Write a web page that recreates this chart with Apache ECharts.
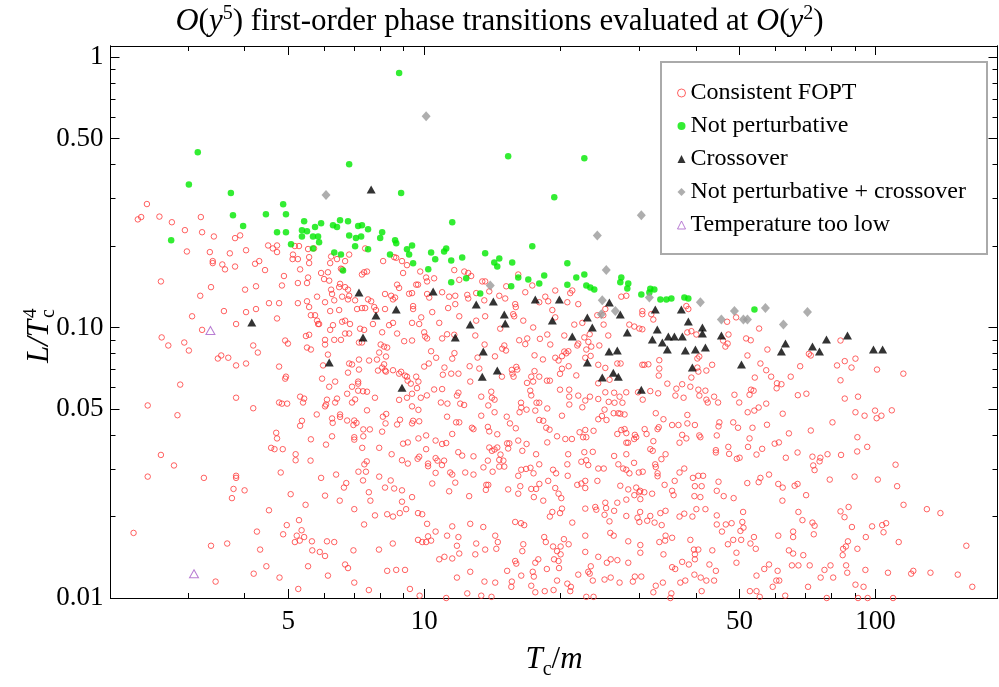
<!DOCTYPE html>
<html><head><meta charset="utf-8">
<script src="https://cdn.jsdelivr.net/npm/echarts@6/dist/echarts.min.js"></script>
<style>html,body{margin:0;padding:0;background:#fff}#c{width:999px;height:687px}</style>
</head><body><div id="c"></div>
<script>
// ---------- axes ----------
const xRange = [2.018, 186.4];
const yRange = [0.01, 1.098];
const xTicksMajor = [5, 10, 50, 100];
const xTickLabels = ['5', '10', '50', '100'];
const xTicksMinor = [3, 4, 6, 7, 8, 9, 20, 30, 40, 60, 70, 80, 90];
const yTicksMajor = [0.01, 0.05, 0.1, 0.5, 1];
const yTickLabels = ['0.01', '0.05', '0.10', '0.50', '1'];
const yTicksMinor = [0.02, 0.03, 0.04, 0.06, 0.07, 0.08, 0.09, 0.2, 0.3, 0.4, 0.6, 0.7, 0.8, 0.9];
const seriesNames = ['Consistent FOPT', 'Not perturbative', 'Crossover', 'Not perturbative + crossover', 'Temperature too low'];

// ---------- data: [Tc/m, L/Tc^4] ----------
const consistentFOPT = [
[2.43,.286],
[2.32,.251],[2.36,.256],[2.59,.257],[2.76,.245],[3.20,.256],[2.95,.229],[3.22,.225],[3.42,.217],[3.81,.214],[3.91,.219],
[2.98,.191],[3.35,.190],[3.71,.188],[4.03,.193],[4.51,.201],[4.72,.201],[4.62,.196],[4.72,.190],[5.17,.200],[5.28,.200],
[5.53,.195],[5.70,.196],[5.12,.186],[5.11,.179],[5.25,.179],[5.56,.182],[5.56,.173],[3.40,.176],[3.40,.173],[3.57,.171],
[3.62,.164],[3.81,.168],[4.22,.172],[4.31,.176],[4.44,.163],[2.61,.148],[3.37,.141],[3.19,.131],[4.01,.138],[4.24,.142],
[4.84,.143],[4.89,.155],[5.31,.164],[5.25,.146],[5.50,.146],[5.53,.153],[5.91,.159],[6.12,.160],[6.00,.151],[6.16,.149],
[6.19,.173],[6.41,.179],[6.68,.176],[6.82,.186],[6.22,.183],[6.54,.165],[6.58,.164],[7.28,.157],[7.36,.160],[7.47,.161],
[7.40,.196],[8.11,.176],[8.58,.182],[8.67,.181],[8.93,.176],[8.98,.159],[9.16,.170],[6.51,.145],[6.48,.141],[6.22,.138],
[6.25,.133],[6.78,.138],[6.82,.131],[6.78,.127],[6.68,.141],[7.51,.127],[7.63,.125],[7.75,.119],[7.82,.116],[8.19,.133],
[8.19,.117],[8.45,.131],[8.62,.129],[8.53,.127],[8.71,.144],[8.80,.140],[3.60,.115],[4.03,.114],[4.24,.117],[3.06,.110],
[3.22,.098],[3.83,.103],[4.53,.123],[4.77,.123],[5.25,.123],[5.50,.125],[5.56,.119],[5.79,.130],[6.03,.124],[6.32,.126],
[6.58,.130],[7.03,.126],[4.72,.108],[5.61,.111],[5.73,.111],[5.79,.106],[5.82,.103],[5.85,.103],[6.19,.115],[6.48,.116],
[6.58,.105],[6.68,.106],[6.85,.103],[7.40,.118],[7.10,.117],[7.28,.118],[7.36,.098],[7.21,.099],[6.19,.098],[6.28,.102],
[5.47,.093],[5.56,.094],[6.03,.090],[6.32,.090],[6.54,.090],[6.68,.095],[6.82,.095],[7.17,.088],[7.28,.088],[7.70,.103],
[8.36,.102],[8.53,.104],[8.71,.095],[9.03,.089],[8.07,.096],[8.01,.0865],[8.15,.085],[8.28,.0843],[7.95,.0808],[8.23,.0781],
[7.86,.0761],[7.55,.0755],[7.17,.0761],[6.82,.0736],[6.92,.073],[6.78,.0681],[7.17,.0699],[5.97,.0724],[6.12,.0794],[5.50,.0843],
[5.61,.0829],[6.03,.0865],[4.92,.0895],[4.99,.0872],[4.18,.0858],[4.28,.0808],[2.62,.0919],[2.71,.0858],[2.94,.088],[3.01,.0822],
[3.49,.0768],[3.55,.0788],[3.68,.0773],[3.83,.0724],[4.03,.0736],[4.77,.0717],[4.92,.0647],[4.94,.0658],[5.94,.0647],[6.35,.0631],
[6.16,.0604],[6.92,.0604],[7.14,.0631],[7.14,.062],[7.14,.0584],[7.32,.0581],[7.47,.0579],[6.75,.0569],[6.41,.0546],[6.09,.0541],
[6.06,.0519],[6.35,.0528],[6.92,.0528],[7.03,.0542],[7.78,.055],[7.90,.0693],[8.07,.0711],[8.15,.0731],[8.19,.0693],[8.23,.0687],
[8.53,.0695],[8.80,.0675],[8.89,.0686],[9.07,.0664],[9.16,.0658],[8.80,.054],[9.16,.055],[2.88,.0615],[2.44,.0515],[3.83,.055],
[5.31,.0555],[5.42,.0546],[5.39,.0528],[4.77,.0528],[4.84,.0523],[4.97,.0523],[13.87,.0515],[20.97,.0519],
[9.80,.161],[10.10,.153],[10.15,.148],[10.52,.152],[9.60,.144],[9.69,.144],[9.40,.134],[10.15,.133],[10.26,.129],[10.96,.135],
[11.36,.130],[11.72,.131],[11.66,.163],[11.96,.150],[12.27,.161],[12.52,.159],[12.71,.155],[13.45,.148],[13.65,.148],[12.46,.132],
[12.52,.128],[13.04,.134],[13.59,.126],[13.94,.136],[14.67,.131],[15.12,.128],[15.20,.142],[15.91,.122],[15.96,.119],[16.16,.157],
[17.36,.143],[16.75,.135],[17.99,.124],[18.55,.130],[18.83,.125],[19.52,.137],[20.76,.124],[21.29,.137],[21.07,.134],[21.95,.122],
[19.23,.116],[19.52,.109],[9.45,.120],[9.45,.117],[9.40,.104],[9.85,.109],[9.75,.103],[10.42,.114],[10.80,.104],[11.30,.118],
[11.72,.122],[11.96,.110],[11.66,.094],[10.00,.096],[10.05,.0926],[10.15,.0911],[9.40,.0895],[10.96,.0911],[11.24,.0944],[12.98,.0934],
[13.65,.110],[13.04,.106],[14.74,.099],[15.83,.110],[15.75,.112],[16.58,.106],[17.44,.100],[16.24,.0897],[16.92,.0911],[18.05,.0908],
[18.74,.0942],[19.03,.0865],[20.44,.0934],[21.51,.1025],[22.41,.104],[22.64,.0919],[23.11,.0885],[21.95,.0872],[21.84,.0858],[23.46,.085],
[24.44,.0858],[23.27,.0944],[25.58,.0934],[24.94,.111],[24.98,.1025],[24.19,.111],[25.20,.117],[27.34,.130],[28.05,.131],[28.48,.1025],
[29.22,.1008],[29.98,.0991],[30.44,.0985],[30.44,.115],[30.44,.112],[31.86,.112],[32.19,.107],[33.19,.0757],[33.19,.0705],[33.1,.0664],
[34.58,.062],[36.21,.0594],[38.29,.0959],[39.09,.0969],[40.10,.0942],[38.10,.120],[38.49,.117],[40.31,.0768],[40.31,.0711],[40.51,.0687],
[40.7,.0781],[39.09,.0653],[38.89,.0604],[40.51,.0589],[40.72,.056],[30.44,.0728],[30.75,.0728],[31.39,.0731],[26.79,.0736],[27.24,.0736],
[25.20,.0709],[24.31,.0728],[23.38,.0785],[22.75,.0773],[22.87,.0829],[20.87,.0817],[20.65,.0803],[20.44,.0815],[20.2,.0783],[19.52,.0773],
[19.85,.0755],[18.33,.0762],[17.56,.0789],[16.75,.0868],[15.05,.0858],[15.18,.0822],[14.89,.0835],[14.35,.0782],[13.61,.0865],[13.13,.0774],
[13.25,.0705],[12.61,.0719],[12.65,.0631],[11.91,.0675],[11.48,.0675],[11.00,.0669],[11.09,.0711],[11.67,.0804],[11.54,.0767],[10.63,.0773],
[10.36,.0817],[10.24,.0736],[10.0,.0717],[9.60,.0658],[9.71,.0631],[9.64,.0597],[9.40,.0569],[9.83,.055],[10.14,.0561],[10.52,.059],
[10.96,.0592],[10.89,.0528],[11.26,.0523],[11.82,.056],[11.91,.0574],[12.02,.0523],[12.26,.0517],[13.38,.0555],[14.08,.0579],[14.13,.055],
[14.32,.0541],[14.87,.0658],[15.64,.0697],[15.69,.0675],[16.0,.0715],[16.08,.0699],[15.78,.0658],[16.90,.0624],[17.27,.0658],[17.56,.069],
[17.99,.0658],[17.44,.0631],[17.18,.0584],[17.27,.0561],[16.39,.0527],[17.74,.0527],[17.99,.0527],[18.71,.0636],[18.99,.0636],[20.0,.0674],
[20.2,.0704],[20.9,.0719],[21.73,.0665],[20.0,.0589],[20.96,.0589],[20.96,.0555],[21.95,.056],[22.75,.0537],[23.3,.0555],[24.31,.0544],
[24.3,.0622],[25.75,.0641],[25.2,.0576],[26.36,.0574],[27.1,.0555],[28.04,.0576],[25.64,.0531],[26.41,.0527],[27.5,.0527],[29.78,.0576],
[30.5,.0541],[31.70,.0582],[33.0,.0571],[36.03,.056],[37.3,.0617],[37.57,.055],[9.34,.062],[9.19,.0636],[9.26,.1333],
[46.91,.105],[49.12,.109],[55.24,.0991],[47.24,.0942],[51.69,.0911],[52.92,.0897],[45.96,.0895],[47.04,.0872],[46.5,.085],[57.62,.0829],
[52.04,.0788],[55.60,.0736],[57.27,.0695],[54.03,.0653],[58.73,.0658],[64.9,.0658],[68.1,.0719],[71.2,.0799],[71.89,.0788],[83.66,.0895],
[85.5,.0751],[90.3,.0767],[82.2,.0724],[88.5,.0711],[100.8,.0699],[115.3,.0675],[83.66,.0638],[43.46,.0728],[42.2,.0693],[41.99,.0584],
[43.9,.0555],[44.8,.0528],[42.2,.0541],[42.5,.0528],[48.7,.0564],[49.9,.0528],[52.6,.0564],[53.0,.0589],[53.7,.0584],[60.5,.0622],
[61.9,.0617],[60.4,.0596],[67.3,.0562],[70.3,.0569],[85.5,.0546],[91.5,.0555],[57.27,.0523],
[2.84,.0474],[4.18,.0503],[6.03,.0511],[7.47,.0494],[5.78,.0477],[6.25,.0461],[6.27,.0444],[6.51,.0477],[6.51,.0467],[6.75,.0453],
[7.0,.0453],[6.97,.0436],[7.08,.0444],[7.33,.042],[7.58,.042],[8.10,.0468],[8.24,.0479],[8.21,.0442],[8.71,.0438],[8.84,.0456],
[8.07,.0412],[5.31,.0433],[5.36,.0452],[4.70,.0408],[4.72,.0389],[4.58,.0359],[4.66,.0355],[4.86,.0355],[5.19,.034],[5.19,.0323],
[5.61,.0386],[6.06,.0369],[6.25,.0396],[7.0,.0393],[7.0,.0385],[7.33,.0396],[7.29,.0359],[7.95,.0359],[8.47,.034],[8.98,.0372],
[8.93,.0323],[2.61,.0338],[2.79,.0309],[2.44,.0281],[3.25,.0278],[3.83,.0283],[3.83,.0278],[3.78,.0253],[3.75,.0234],[4.0,.025],
[5.60,.0322],[4.81,.0291],[5.06,.0242],[5.46,.0221],[5.91,.0278],[6.03,.0239],[6.38,.0286],[6.64,.0256],[6.72,.0266],[6.50,.0229],
[7.15,.0293],[7.43,.0293],[7.46,.032],[7.37,.0312],[7.32,.0272],[7.54,.0246],[7.60,.0229],[7.95,.0281],[8.19,.0256],[8.43,.0272],
[8.58,.0254],[8.93,.025],[8.93,.0227],[7.0,.0213],[7.78,.0202],[8.28,.0204],[8.53,.02],[8.83,.0206],[9.12,.0213],[7.36,.0187],
[7.94,.0151],[8.52,.0159],[6.97,.015],[6.68,.0133],[6.78,.0129],[7.0,.0114],[7.54,.0107],[8.28,.0126],[8.67,.0127],[9.07,.0127],
[4.53,.0211],[5.28,.0194],[4.96,.0186],[5.35,.0178],[4.87,.0172],[5.22,.017],[5.17,.0161],[5.30,.0163],[5.42,.0168],[5.64,.0162],
[5.65,.015],[5.87,.0148],[6.03,.0143],[6.09,.0162],[6.32,.0161],[5.53,.0131],[6.12,.0121],[5.26,.0108],[4.78,.0119],[4.47,.0131],
[4.19,.0123],[4.33,.0151],[4.26,.0176],[3.45,.0115],[3.66,.0159],[3.37,.0156],[2.27,.0174],
[9.40,.0511],[9.71,.0496],[14.32,.0486],[16.41,.0506],[16.86,.0497],[17.63,.0493],[18.74,.0502],[22.41,.0507],[25.1,.0497],[26.3,.0482],
[26.92,.0482],[27.2,.048],[27.8,.0477],[9.40,.0442],[9.45,.0452],[9.75,.045],[9.71,.0389],[10.10,.0399],[11.24,.0468],[11.77,.0446],
[11.96,.0446],[11.54,.0404],[12.76,.0426],[12.86,.0421],[13.38,.0472],[13.84,.0429],[13.94,.0413],[14.52,.0403],[15.24,.0468],[15.49,.0442],
[15.96,.0424],[16.27,.0486],[17.99,.0455],[18.36,.0452],[18.64,.0426],[18.96,.0419],[20.2,.0472],[19.7,.0396],[20.55,.0387],[21.25,.0387],
[22.1,.041],[22.5,.0393],[22.75,.0418],[22.87,.0393],[23.73,.0415],[24.31,.0458],[24.77,.0471],[25.35,.0455],[26.79,.0404],[27.34,.0418],
[27.8,.0421],[28.05,.0407],[29.3,.0401],[29.5,.0393],[29.2,.0387],[28.3,.0375],[31.1,.0404],[30.8,.0421],[32.6,.0482],[33.9,.0458],
[33.1,.0428],[32.9,.0421],[35.43,.0436],[36.6,.0436],[38.3,.0475],[38.3,.0442],[39.8,.0436],[37.3,.0401],[38.1,.0389],[36.8,.0375],
[40.7,.0399],[40.93,.0393],[9.20,.0376],[9.20,.0314],[10.6,.0382],[10.96,.0371],[11.19,.0374],[10.1,.0355],[9.67,.0327],[9.75,.0333],
[10.6,.0329],[10.2,.0314],[10.2,.0307],[10.7,.0322],[11.07,.0322],[10.95,.031],[10.6,.029],[10.42,.0265],[11.42,.0291],[11.54,.0286],
[11.72,.0267],[11.9,.0346],[12.14,.0336],[12.86,.0334],[12.33,.0291],[12.86,.0286],[13.53,.0304],[13.84,.0322],[14.13,.035],[14.32,.0354],
[13.94,.036],[14.52,.036],[14.76,.0339],[14.67,.0324],[14.98,.0322],[14.67,.0306],[15.05,.0306],[14.18,.0293],[15.27,.0373],[15.44,.0373],
[15.35,.0357],[16.16,.0382],[16.5,.035],[16.86,.0371],[17.7,.034],[17.99,.0312],[16.41,.0298],[16.82,.03],[17.2,.0303],[17.47,.0289],
[16.16,.0283],[18.74,.0376],[19.3,.0298],[19.6,.0289],[20.85,.034],[20.8,.0283],[20.76,.0312],[22.3,.0319],[22.64,.0346],[22.86,.0323],
[23.1,.031],[23.64,.0347],[24.31,.0301],[25.0,.0301],[22.75,.0271],[22.3,.0265],[24.2,.0271],[26.36,.0335],[26.93,.0312],[28.05,.034],
[28.05,.0375],[29.18,.0316],[27.6,.0301],[28.05,.0298],[28.5,.0289],[29.9,.0291],[30.5,.0293],[31.7,.0355],[32.1,.035],[32.2,.038],
[32.5,.0312],[32.6,.0305],[33.55,.0326],[34.27,.034],[32.9,.0289],[32.9,.0282],[36.8,.0291],[37.7,.0301],[39.4,.0278],[39.8,.0259],
[41.2,.0259],[40.93,.0236],[39.7,.0238],[40.5,.0283],[9.40,.0236],[9.69,.0206],[9.90,.0204],[11.36,.0248],[12.58,.0238],[13.7,.0251],
[13.87,.0262],[13.73,.0262],[15.35,.0252],[16.16,.0243],[16.33,.0259],[17.27,.0253],[17.7,.0253],[17.5,.0236],[18.0,.0264],[18.83,.0271],
[19.52,.0255],[19.85,.0243],[20.13,.0234],[18.36,.0229],[19.23,.0208],[18.99,.02],[20.0,.0206],[20.2,.0214],[21.29,.019],[21.84,.0262],
[22.75,.0255],[22.75,.0214],[23.94,.0217],[24.07,.0212],[25.1,.0203],[25.3,.0215],[25.2,.0225],[25.74,.0192],[25.85,.0174],[26.3,.017],
[26.79,.0225],[26.36,.021],[27.2,.026],[28.05,.0231],[28.33,.0252],[29.22,.024],[29.5,.0256],[29.98,.0246],[30.1,.0208],[30.13,.0232],
[30.1,.0249],[30.75,.0246],[32.0,.0243],[28.05,.0201],[29.7,.0198],[29.98,.0191],[31.2,.0193],[31.70,.0201],[32.4,.019],[33.6,.0186],
[34.27,.021],[33.37,.0206],[35.43,.0249],[35.7,.024],[34.1,.0262],[35.9,.0271],[36.8,.02],[37.7,.0205],[39.3,.02],[40.1,.0213],
[9.69,.0164],[9.90,.0161],[10.1,.0161],[10.36,.0163],[10.2,.0169],[10.6,.0176],[10.15,.0188],[11.24,.017],[11.54,.0184],[11.91,.0168],
[11.82,.0156],[11.96,.0146],[11.09,.0142],[11.54,.014],[10.8,.0139],[13.04,.0159],[12.98,.0145],[12.65,.0188],[13.52,.0183],[13.65,.0151],
[14.37,.017],[14.56,.0161],[14.45,.0152],[15.91,.0191],[16.39,.0189],[16.66,.0186],[16.58,.0158],[16.5,.0149],[18.45,.0168],[18.6,.0161],
[19.3,.0155],[20.06,.0155],[20.4,.0165],[20.9,.0158],[19.7,.0149],[20.06,.0145],[19.4,.0139],[19.85,.0137],[19.9,.0129],[18.7,.0128],
[17.63,.0135],[15.91,.0137],[16.0,.0134],[15.27,.0126],[16.41,.0121],[17.4,.0125],[17.5,.012],[17.9,.0139],[22.75,.017],[22.75,.0148],
[24.31,.0142],[23.4,.0131],[25.4,.0135],[25.9,.0139],[26.8,.0138],[28.33,.0135],[28.33,.0162],[30.13,.0157],[30.13,.0147],[33.2,.0161],
[34.2,.0163],[34.27,.017],[35.43,.0167],[33.9,.0145],[38.89,.0164],[39.6,.0151],[39.8,.0145],[40.5,.0151],[39.8,.0139],[38.6,.0133],
[37.3,.0136],[35.43,.013],[36.0,.0128],[11.82,.0119],[12.65,.0125],[13.6,.0115],[14.37,.0114],[12.46,.0104],[11.19,.0100],[9.77,.0102],
[9.30,.0108],[13.38,.0102],[14.1,.0101],[15.64,.0115],[15.6,.011],[17.27,.0111],[17.63,.0105],[18.5,.0106],[19.35,.0107],[20.76,.0113],
[21.14,.011],[21.07,.0106],[19.7,.0116],[21.95,.0122],[23.1,.0125],[23.27,.0123],[23.64,.0116],[22.87,.0101],[23.73,.0101],[25.1,.0117],
[25.9,.0119],[27.1,.0114],[29.0,.0115],[29.3,.012],[30.28,.012],[32.2,.0105],[32.6,.0111],[33.8,.0114],[35.3,.0104],[35.12,.0100],
[36.95,.0114],[37.9,.0116],[39.7,.0122],[41.0,.0119],[41.2,.0106],
[52.1,.0486],[53.9,.0493],[55.1,.0506],[62.3,.048],[90.3,.0486],[94.6,.0472],[99.8,.0493],[100.6,.0462],[103.1,.0472],[108.7,.0494],
[45.1,.0446],[44.9,.0431],[48.4,.0446],[49.6,.0426],[53.4,.0426],[57.5,.0437],[80.3,.0446],[71.9,.0416],[64.3,.0406],[44.5,.0399],
[52.6,.0389],[52.2,.0362],[56.1,.0356],[59.8,.0372],[61.1,.0376],[47.2,.0362],[47.4,.0341],[44.3,.0352],[44.3,.0345],[49.3,.0327],
[50.0,.033],[54.5,.0339],[63.3,.033],[67.2,.0345],[72.5,.0333],[75.5,.033],[78.3,.034],[83.9,.0338],[75.2,.032],[72.8,.0309],
[73.3,.0297],[91.2,.0393],[91.1,.0348],[95.9,.0362],[110.8,.0311],[41.5,.0283],[58.1,.0286],[55.6,.0278],[55.1,.0268],[52.0,.0266],
[44.9,.0269],[44.5,.0249],[46.1,.0238],[48.5,.0234],[60.9,.0264],[62.3,.0256],[66.2,.026],[67.2,.0264],[70.2,.024],[62.2,.0229],
[79.2,.0274],[89.9,.0281],[101.2,.0274],[111.7,.0259],[42.0,.0213],[44.5,.0202],[44.5,.0187],[46.6,.0187],[48.0,.0189],[50.9,.0208],
[50.7,.0191],[51.0,.0182],[50.21,.0177],[45.7,.0176],[47.1,.0158],[48.4,.0164],[50.4,.0164],[52.84,.0159],[53.8,.0168],[54.3,.0152],
[60.9,.017],[65.7,.0176],[65.7,.0168],[67.5,.0208],[68.9,.0194],[72.5,.019],[73.3,.0185],[73.0,.0172],[83.66,.0209],[85.4,.0199],
[87.2,.0217],[88.7,.0183],[98.3,.0184],[103.5,.0186],[105.6,.0189],[104.2,.0175],[95.2,.0168],[86.9,.0162],[86.0,.0155],[84.8,.0152],
[84.6,.0144],[91.2,.0152],[112.6,.0161],[115.4,.0221],[130.0,.0213],[139.3,.0206],[159.0,.0156],[43.5,.015],[49.2,.0147],[49.2,.0135],
[42.86,.0133],[44.3,.0126],[42.2,.0116],[43.9,.0116],[56.7,.0128],[58.1,.0133],[60.7,.0126],[60.3,.0116],[61.2,.0116],[59.2,.011],
[54.5,.0121],[52.7,.0106],[54.5,.0106],[55.4,.0101],[63.1,.0102],[64.3,.015],[65.7,.0146],[69.2,.0144],[65.3,.0132],[67.5,.0132],
[71.5,.0132],[70.9,.011],[75.6,.0119],[77.1,.0127],[79.5,.0132],[80.6,.0119],[86.1,.0132],[86.6,.0124],[90.3,.0112],[94.1,.011],
[95.0,.0127],[106.6,.0124],[120.0,.0123],[121.3,.0126],[132.4,.0124],[152.2,.0122],[163.9,.011],[78.0,.01],[91.5,.01],[96.1,.01],[109.4,.01]
];
const notPerturbative = [
[8.80,.872],[3.15,.444],[6.82,.401],[3.01,.338],[3.73,.314],[8.89,.314],[4.87,.2855],[3.77,.260],[4.46,.262],[4.94,.262],
[15.35,.430],[22.64,.422],[19.42,.303],[3.97,.237],[2.75,.210],[4.72,.225],[4.94,.225],[5.42,.247],[5.36,.229],[5.50,.227],
[5.73,.235],[5.91,.243],[5.36,.217],[5.67,.217],[5.82,.217],[5.85,.2065],[5.07,.203],[5.67,.196],[6.28,.239],[6.41,.235],
[6.51,.249],[6.78,.247],[7.14,.237],[7.28,.239],[7.51,.231],[6.82,.219],[7.06,.214],[7.25,.217],[7.03,.1995],[7.51,.1945],
[6.32,.1895],[6.54,.1863],[6.61,.1626],[8.07,.225],[7.99,.214],[8.62,.210],[8.67,.205],[8.40,.186],[9.16,.1945],[9.26,.186],
[11.54,.245],[9.40,.201],[9.45,.1726],[10.36,.1895],[10.58,.1786],[11.07,.191],[11.19,.196],[11.48,.177],[12.14,.1816],[10.21,.164],
[11.48,.147],[12.39,.152],[13.31,.1336],[13.65,.188],[14.30,.174],[14.67,.180],[14.52,.168],[15.67,.174],[17.36,.1995],[16.16,.153],
[15.59,.142],[17.01,.1506],[17.99,.1455],[18.45,.1558],[20.76,.1726],[21.73,.153],[22.64,.157],[20.76,.144],[22.87,.143],[23.34,.1407],
[23.82,.1383],[27.34,.153],[27.20,.147],[28.33,.1455],[28.19,.1395],[30.28,.1325],[31.70,.139],[31.55,.1348],[32.36,.1383],[33.37,.127],
[34.41,.127],[35.30,.128],[37.72,.129],[38.49,.128],[53.93,.1166]
];
const crossover = [
[7.63,.324],[7.17,.1348],[4.15,.1043],[7.82,.1108],[8.67,.1166],[7.32,.0919],[6.16,.0742],[8.93,.0599],[10.47,.1359],[13.04,.1217],
[14.23,.1248],[15.05,.1117],[15.12,.1034],[12.65,.1025],[11.72,.0919],[13.52,.0815],[14.52,.0693],[13.45,.0658],[17.63,.127],[19.93,.127],
[19.23,.1061],[22.99,.1089],[23.58,.100],[21.29,.0926],[25.72,.1238],[27.20,.1117],[28.19,.0959],[25.68,.0815],[26.79,.0822],[22.99,.0742],
[26.25,.0681],[26.93,.0658],[24.81,.0653],[30.28,.0589],[32.52,.1166],[32.85,.0983],[32.03,.0903],[33.71,.088],[34.76,.0926],[35.85,.0926],
[37.33,.0926],[37.14,.1166],[38.49,.1052],[41.35,.100],[41.35,.095],[34.58,.0829],[37.91,.0822],[39.90,.0829],[39.29,.0711],[41.99,.0843],
[45.56,.0934],[50.47,.073],[63.18,.0872],[61.89,.0815],[72.52,.085],[75.16,.0815],[77.88,.0903],[86.70,.0934],[98.99,.0829],[103.7,.0829]
];
const notPertCrossover = [
[6.06,.309],[10.10,.604],[30.28,.260],[24.19,.219],[25.32,.163],[14.01,.143],[24.81,.126],[24.69,.112],[26.52,.115],[31.55,.129],
[40.93,.124],[48.70,.115],[57.04,.118],[70.69,.114],[45.56,.107],[50.98,.107],[52.04,.107],[62.53,.1025]
];
const tempTooLow = [[3.36,.0975],[3.09,.0123]];

// ---------- chart ----------
const F = 'Liberation Serif';
const L10 = Math.log10;
const lx = xRange.map(L10), ly = yRange.map(L10);
function labeler(ticks, labels) {
  return function (v) {
    for (let i = 0; i < ticks.length; i++) if (Math.abs(L10(ticks[i]) - v) < 1e-6) return labels[i];
    return '';
  };
}
function overlay(kind, pos, ticks, len, labels) {
  const r = kind === 'x' ? lx : ly;
  return {
    type: 'value', position: pos, min: r[0], max: r[1], silent: true,
    axisLine: { show: true, onZero: false, lineStyle: { color: '#000', width: 1 } },
    axisTick: { show: true, inside: true, length: len, customValues: ticks.map(L10), lineStyle: { color: '#000', width: 1 } },
    axisLabel: labels ? { show: true, customValues: ticks.map(L10), formatter: labeler(ticks, labels),
      fontFamily: F, fontSize: 27, color: '#000', margin: kind === 'x' ? 10 : 7 } : { show: false },
    splitLine: { show: false }, minorTick: { show: false }, minorSplitLine: { show: false }
  };
}
const xMain = overlay('x', 'bottom', xTicksMajor, 9, xTickLabels);
xMain.name = '{i|T}{c|c}{p|/}{i|m}';
xMain.nameLocation = 'middle';
xMain.nameGap = 42;
xMain.nameTextStyle = { rich: {
  i: { fontFamily: F, fontStyle: 'italic', fontSize: 31, lineHeight: 40, color: '#000' },
  p: { fontFamily: F, fontSize: 31, lineHeight: 40, color: '#000' },
  c: { fontFamily: F, fontSize: 20, lineHeight: 22, verticalAlign: 'bottom', color: '#000' } } };

const chart = echarts.init(document.getElementById('c'), null, { renderer: 'canvas' });
chart.setOption({
  animation: false,
  backgroundColor: '#fff',
  title: {
    text: '{o|O}{p|(}{i|y}{s|5}{p|) first-order phase transitions evaluated at }{o|O}{p|(}{i|y}{s|2}{p|)}',
    left: 'center', top: -1,
    textStyle: { fontFamily: F, fontSize: 31, fontWeight: 'normal', color: '#000', rich: {
      p: { fontFamily: F, fontSize: 31, lineHeight: 36, color: '#000' },
      i: { fontFamily: F, fontSize: 31, fontStyle: 'italic', lineHeight: 36, color: '#000' },
      o: { fontFamily: F, fontSize: 32, fontStyle: 'italic', lineHeight: 36, color: '#000' },
      s: { fontFamily: F, fontSize: 20, lineHeight: 20, verticalAlign: 'top', color: '#000' } } }
  },
  grid: { left: 110.5, right: 1.5, top: 46, bottom: 89, containLabel: false, outerBoundsMode: 'none' },
  xAxis: [
    { type: 'log', logBase: 10, min: xRange[0], max: xRange[1], show: false },
    xMain,
    overlay('x', 'bottom', xTicksMinor, 5, null),
    overlay('x', 'top', xTicksMajor, 9, null),
    overlay('x', 'top', xTicksMinor, 5, null)
  ],
  yAxis: [
    { type: 'log', logBase: 10, min: yRange[0], max: yRange[1], show: false },
    overlay('y', 'left', yTicksMajor, 9, yTickLabels),
    overlay('y', 'left', yTicksMinor, 5, null),
    overlay('y', 'right', yTicksMajor, 9, null),
    overlay('y', 'right', yTicksMinor, 5, null)
  ],
  legend: {
    orient: 'vertical', left: 677, top: 81, padding: 0, itemWidth: 8, itemHeight: 8, itemGap: 9,
    selectedMode: false, z: 6,
    textStyle: { fontFamily: F, fontSize: 24, color: '#000', lineHeight: 24 },
    data: [
      { name: seriesNames[0], icon: 'circle', itemStyle: { color: 'rgba(0,0,0,0)', borderColor: '#ff3b3b', borderWidth: 1 } },
      { name: seriesNames[1], icon: 'circle', itemStyle: { color: '#00e800', borderWidth: 0 } },
      { name: seriesNames[2], icon: 'triangle', itemStyle: { color: '#000', borderWidth: 0 } },
      { name: seriesNames[3], icon: 'diamond', itemStyle: { color: '#9a9a9a', borderWidth: 0 } },
      { name: seriesNames[4], icon: 'triangle', itemStyle: { color: 'rgba(0,0,0,0)', borderColor: '#a85cc8', borderWidth: 1 } }
    ]
  },
  graphic: [
    { type: 'rect', z: 5, shape: { x: 661, y: 62, width: 326, height: 192 }, style: { fill: '#fff', stroke: '#aaa', lineWidth: 2 } },
    { type: 'group', x: 40, y: 332, rotation: Math.PI / 2, children: [
      { type: 'text', x: 12, y: 0, style: { text: 'L/T', fontFamily: F, fontStyle: 'italic', fontSize: 31, fill: '#000', align: 'right', verticalAlign: 'middle' } },
      { type: 'text', x: 14, y: -9, style: { text: '4', fontFamily: F, fontSize: 19, fill: '#000', align: 'left', verticalAlign: 'middle' } },
      { type: 'text', x: 14, y: 9, style: { text: 'c', fontFamily: F, fontSize: 20, fill: '#000', align: 'left', verticalAlign: 'middle' } }
    ] }
  ],
  series: [
    { type: 'scatter', name: seriesNames[0], data: consistentFOPT, xAxisIndex: 0, yAxisIndex: 0, symbol: 'circle', symbolSize: 5.5,
      itemStyle: { color: 'rgba(0,0,0,0)', borderColor: '#ff3b3b', borderWidth: 1 }, silent: true, z: 2 },
    { type: 'scatter', name: seriesNames[1], data: notPerturbative, xAxisIndex: 0, yAxisIndex: 0, symbol: 'circle', symbolSize: 6.5,
      itemStyle: { color: '#00e800' }, silent: true, z: 3 },
    { type: 'scatter', name: seriesNames[2], data: crossover, xAxisIndex: 0, yAxisIndex: 0, symbol: 'triangle', symbolSize: [9, 8],
      itemStyle: { color: '#000' }, silent: true, z: 3 },
    { type: 'scatter', name: seriesNames[3], data: notPertCrossover, xAxisIndex: 0, yAxisIndex: 0, symbol: 'diamond', symbolSize: [9, 10],
      itemStyle: { color: '#9a9a9a' }, silent: true, z: 3 },
    { type: 'scatter', name: seriesNames[4], data: tempTooLow, xAxisIndex: 0, yAxisIndex: 0, symbol: 'triangle', symbolSize: [9, 8],
      itemStyle: { color: 'rgba(0,0,0,0)', borderColor: '#a85cc8', borderWidth: 1 }, silent: true, z: 3 }
  ]
});
</script>
</body></html>
